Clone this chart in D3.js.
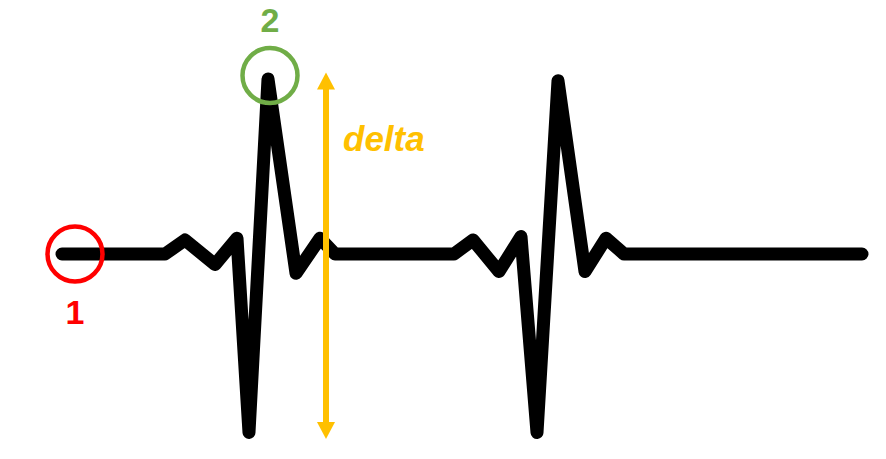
<!DOCTYPE html>
<html>
<head>
<meta charset="utf-8">
<script src="https://cdn.jsdelivr.net/npm/d3@7"></script>
<style>
  html, body { margin: 0; padding: 0; background: #fff; }
  svg { display: block; }
</style>
</head>
<body>
<script>
// ECG-like trace: time (ms) and amplitude (arbitrary units)
const times = [0, 103, 123, 153, 175, 187, 206, 234, 258, 273, 392,
               411, 437, 459, 475, 496, 523, 544, 562, 800];
const amps  = [0, 0, 0.08, -0.06, 0.09, -1.02, 1.0, -0.11, 0.09, 0, 0,
               0.08, -0.1, 0.1, -1.02, 0.99, -0.1, 0.09, 0, 0];
// annotated points
const markerLabels = ["1", "2"];
const markerTimes  = [13, 208];
const markerAmps   = [0, 1.02];
const deltaLabel = "delta";
const deltaTime = 264;
const deltaTop = 1.0;
const deltaBottom = -1.02;

const W = 886, H = 459;
const svg = d3.select("body").append("svg").attr("width", W).attr("height", H);
svg.append("rect").attr("width", W).attr("height", H).attr("fill", "#fff");

const x = d3.scaleLinear().domain([0, 800]).range([62, 862]);
const y = d3.scaleLinear().domain([-1, 1]).range([429, 79]);

const data = times.map((t, i) => ({t, v: amps[i]}));
const sw = 13;

svg.append("path")
  .datum(data)
  .attr("fill", "none")
  .attr("stroke", "#000")
  .attr("stroke-width", sw)
  .attr("stroke-linejoin", "round")
  .attr("stroke-linecap", "round")
  .attr("d", d3.line().x(d => x(d.t)).y(d => y(d.v)));

// delta arrow
const ax = x(deltaTime);
const yTop = y(deltaTop) - sw / 2;
const yBot = y(deltaBottom) + sw / 2;
const headH = 17, headW = 9;
const orange = "#FFC000";
svg.append("line")
  .attr("x1", ax).attr("x2", ax)
  .attr("y1", yTop + headH - 1).attr("y2", yBot - headH + 1)
  .attr("stroke", orange).attr("stroke-width", 6);
svg.append("path")
  .attr("fill", orange)
  .attr("d", `M${ax},${yTop} L${ax + headW},${yTop + headH} L${ax - headW},${yTop + headH} Z`);
svg.append("path")
  .attr("fill", orange)
  .attr("d", `M${ax},${yBot} L${ax + headW},${yBot - headH} L${ax - headW},${yBot - headH} Z`);
svg.append("text")
  .attr("x", ax + 17).attr("y", y(deltaTop) + 72)
  .attr("fill", orange)
  .attr("font-family", "Liberation Sans, Arial, sans-serif")
  .attr("font-weight", "bold")
  .attr("font-style", "italic")
  .attr("font-size", 35)
  .text(deltaLabel);

// markers
const markerColors = ["#FF0000", "#70AD47"];
markerLabels.forEach((lab, i) => {
  const cx = x(markerTimes[i]), cy = y(markerAmps[i]);
  svg.append("circle")
    .attr("cx", cx).attr("cy", cy).attr("r", 27.5)
    .attr("fill", "none")
    .attr("stroke", markerColors[i])
    .attr("stroke-width", 4.5);
  svg.append("text")
    .attr("x", cx).attr("y", i === 0 ? cy + 70 : cy - 44)
    .attr("text-anchor", "middle")
    .attr("fill", markerColors[i])
    .attr("font-family", "Liberation Sans, Arial, sans-serif")
    .attr("font-weight", "bold")
    .attr("font-size", 34)
    .text(lab);
});
</script>
</body>
</html>
